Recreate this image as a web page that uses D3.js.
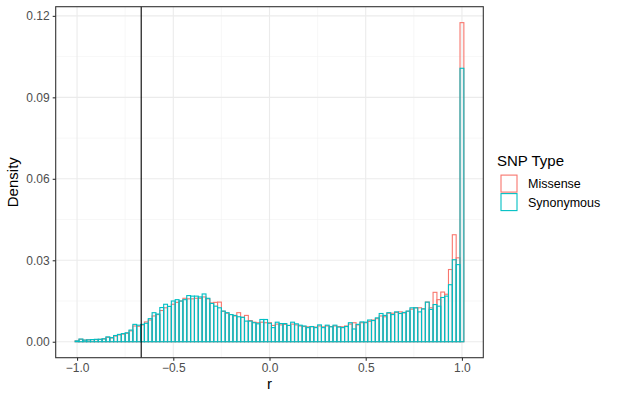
<!DOCTYPE html>
<html><head><meta charset="utf-8">
<script src="https://cdn.jsdelivr.net/npm/d3@7"></script>
<style>body{margin:0;background:#fff}svg{display:block}text{font-family:"Liberation Sans",Arial,sans-serif}</style>
</head><body>
<svg id="c" width="617" height="401"></svg>
<script>
// Histogram: bins of width 0.02 centred on -1.00, -0.98, ..., 1.00
const binWidth = 0.02;
const binFirstCenter = -1.0;
const seriesNames = ["Missense", "Synonymous"];
const seriesColors = ["#F8766D", "#00BFC4"];
const missense = [
 0.0003,0.0009,0.0006,0.0007,0.0008,0.0008,0.0009,0.0010,0.0016,0.0014,
 0.0021,0.0025,0.0028,0.0031,0.0040,0.0058,0.0057,0.0062,0.0073,0.0080,
 0.0095,0.0100,0.0115,0.0125,0.0130,0.0138,0.0145,0.0150,0.0160,0.0158,
 0.0158,0.0160,0.0160,0.0165,0.0158,0.0143,0.0145,0.0146,0.0112,0.0105,
 0.0100,0.0095,0.0107,0.0090,0.0097,0.0078,0.0072,0.0070,0.0072,0.0070,
 0.0070,0.0060,0.0065,0.0062,0.0064,0.0060,0.0065,0.0062,0.0058,0.0056,
 0.0055,0.0055,0.0054,0.0058,0.0055,0.0058,0.0056,0.0058,0.0056,0.0055,
 0.0058,0.0065,0.0070,0.0062,0.0070,0.0070,0.0075,0.0080,0.0085,0.0095,
 0.0092,0.0105,0.0105,0.0108,0.0110,0.0106,0.0112,0.0120,0.0125,0.0125,
 0.0121,0.0146,0.0125,0.0182,0.0155,0.0183,0.0175,0.0266,0.0394,0.0309,
 0.1175];
const synonymous = [
 0.0003,0.0010,0.0006,0.0007,0.0008,0.0009,0.0009,0.0011,0.0018,0.0015,
 0.0023,0.0027,0.0030,0.0033,0.0043,0.0064,0.0061,0.0064,0.0068,0.0085,
 0.0107,0.0102,0.0126,0.0138,0.0130,0.0150,0.0155,0.0150,0.0155,0.0170,
 0.0168,0.0168,0.0165,0.0176,0.0160,0.0141,0.0131,0.0125,0.0113,0.0107,
 0.0100,0.0097,0.0092,0.0090,0.0076,0.0076,0.0070,0.0066,0.0082,0.0082,
 0.0068,0.0052,0.0072,0.0067,0.0067,0.0060,0.0072,0.0066,0.0061,0.0058,
 0.0052,0.0056,0.0052,0.0062,0.0052,0.0061,0.0055,0.0061,0.0054,0.0052,
 0.0056,0.0070,0.0047,0.0064,0.0073,0.0072,0.0080,0.0078,0.0088,0.0104,
 0.0097,0.0107,0.0100,0.0110,0.0104,0.0108,0.0113,0.0125,0.0125,0.0110,
 0.0121,0.0146,0.0119,0.0137,0.0131,0.0163,0.0168,0.0210,0.0302,0.0284,
 0.1007];
const xTicks = [-1.0, -0.5, 0.0, 0.5, 1.0];
const xMinor = [-0.75, -0.25, 0.25, 0.75];
const yTicks = [0, 0.03, 0.06, 0.09, 0.12];
const yMinor = [0.015, 0.045, 0.075, 0.105];
const vline = -2/3;

const svg = d3.select("#c");
const P = {l: 55.7, r: 483.3, t: 6.7, b: 357.7};
const n = synonymous.length;
const lo = binFirstCenter - binWidth/2, hi = binFirstCenter + (n-1)*binWidth + binWidth/2;
const xpad = (hi-lo)*0.05;
const x = d3.scaleLinear().domain([lo-xpad, hi+xpad]).range([P.l, P.r]);
const ymax = d3.max(missense.concat(synonymous));
const y = d3.scaleLinear().domain([-ymax*0.05, ymax*1.05]).range([P.b, P.t]);

// grid
const g = svg.append("g");
g.selectAll(".xm").data(xMinor).join("line").attr("x1",d=>x(d)).attr("x2",d=>x(d)).attr("y1",P.t).attr("y2",P.b).attr("stroke","#F2F2F2").attr("stroke-width",0.6);
g.selectAll(".ym").data(yMinor).join("line").attr("y1",d=>y(d)).attr("y2",d=>y(d)).attr("x1",P.l).attr("x2",P.r).attr("stroke","#F2F2F2").attr("stroke-width",0.6);
g.selectAll(".xM").data(xTicks).join("line").attr("x1",d=>x(d)).attr("x2",d=>x(d)).attr("y1",P.t).attr("y2",P.b).attr("stroke","#EBEBEB").attr("stroke-width",1.1);
g.selectAll(".yM").data(yTicks).join("line").attr("y1",d=>y(d)).attr("y2",d=>y(d)).attr("x1",P.l).attr("x2",P.r).attr("stroke","#EBEBEB").attr("stroke-width",1.1);

// bars
[missense, synonymous].forEach((vals, si) => {
  const data = vals.map((v,i)=>({c: binFirstCenter + i*binWidth, v}));
  svg.append("g").selectAll("rect").data(data).join("rect")
    .attr("x", d=>x(d.c - binWidth/2))
    .attr("width", d=>x(d.c + binWidth/2) - x(d.c - binWidth/2))
    .attr("y", d=>y(d.v))
    .attr("height", d=>y(0)-y(d.v))
    .attr("fill", si===1 ? "rgba(0,191,196,0.04)" : "none")
    .attr("stroke", seriesColors[si]).attr("stroke-width", 1.1);
});

// vertical line
svg.append("line").attr("x1",x(vline)).attr("x2",x(vline)).attr("y1",P.t).attr("y2",P.b).attr("stroke","#000").attr("stroke-width",1.1);

// panel border
svg.append("rect").attr("x",P.l).attr("y",P.t).attr("width",P.r-P.l).attr("height",P.b-P.t).attr("fill","none").attr("stroke","#333").attr("stroke-width",1.1);

// axes
const xa = svg.append("g").attr("transform",`translate(0,${P.b})`).call(d3.axisBottom(x).tickValues(xTicks).tickFormat(d3.format(".1f")).tickSize(3).tickPadding(3));
const ya = svg.append("g").attr("transform",`translate(${P.l},0)`).call(d3.axisLeft(y).tickValues(yTicks).tickFormat(d3.format(".2f")).tickSize(3).tickPadding(3));
[xa, ya].forEach(a => {
  a.select(".domain").remove();
  a.selectAll(".tick line").attr("stroke","#333").attr("stroke-width",1.1);
  a.selectAll(".tick text").attr("fill","#4D4D4D").style("font-size","12px").style("font-family","Liberation Sans, Arial, sans-serif");
});

svg.append("text").attr("x",(P.l+P.r)/2).attr("y",389).attr("text-anchor","middle").style("font-size","15px").text("r");
svg.append("text").attr("transform",`translate(18,${(P.t+P.b)/2}) rotate(-90)`).attr("text-anchor","middle").style("font-size","15px").text("Density");

// legend
const L = svg.append("g");
L.append("text").attr("x",497).attr("y",166).style("font-size","15px").text("SNP Type");
seriesNames.forEach((s,i)=>{
  const yy = 174.5 + i*18.5;
  L.append("rect").attr("x",501).attr("y",yy+0.6).attr("width",16).attr("height",17).attr("fill","none").attr("stroke",seriesColors[i]).attr("stroke-width",1.1);
  L.append("text").attr("x",528).attr("y",yy+9.4).attr("dy","0.35em").style("font-size","12.5px").text(s);
});
</script>
</body></html>
